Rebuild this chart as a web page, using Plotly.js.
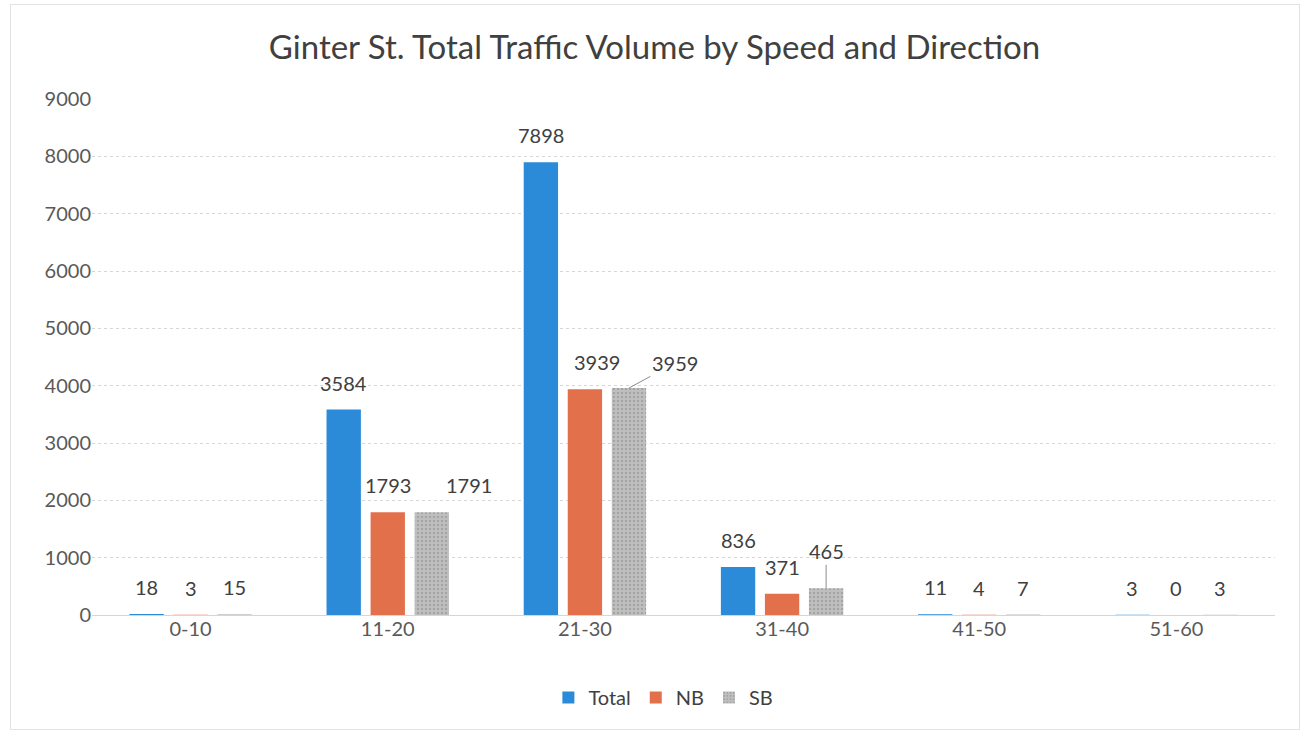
<!DOCTYPE html>
<html>
<head>
<meta charset="utf-8">
<script src="https://cdn.plot.ly/plotly-3.0.1.min.js"></script>
<style>
html,body{margin:0;padding:0;background:#fff;}
#frame{position:absolute;left:10px;top:4px;width:1290px;height:726px;border:1px solid #e3e3e3;box-sizing:border-box;}
#chart{width:1309px;height:734px;}
</style>
</head>
<body>
<div id="frame"></div>
<div id="chart"></div>
<script>
const categories = ['0-10','11-20','21-30','31-40','41-50','51-60'];
const seriesNames = ['Total','NB','SB'];
const totalValues = [18, 3584, 7898, 836, 11, 3];
const nbValues = [3, 1793, 3939, 371, 4, 0];
const sbValues = [15, 1791, 3959, 465, 7, 3];
const yTicks = [0,1000,2000,3000,4000,5000,6000,7000,8000,9000];

const font = 'Lato, "Open Sans", sans-serif';
const textFont = {family: font, size: 20, color: '#404040'};
const W = 1309, H = 734, ML = 92, MR = 34, MT = 99, MB = 119;
const BARGAP = 0.33, GROUPGAP = 0.22;

const series = [totalValues, nbValues, sbValues];
const colors = ['#2b8bd9', '#e2714b', '#b8b8b8'];

const traces = series.map((vals, k) => {
  const t = {type:'bar', name:seriesNames[k], x:categories, y:vals,
    marker:{color:colors[k]}, hoverinfo:'none'};
  if (k === 2) t.marker.pattern = {shape:'.', fgcolor:'#9c9c9c', bgcolor:'#bebebe', size:4, solidity:0.22};
  return t;
});

// data labels as annotations, placed at each bar's slot within its group
const catW = (W - ML - MR) / categories.length;
const slot = catW * (1 - BARGAP) / series.length;
// SB labels that use leader lines in the reference
const leader = {'2|21-30': {ax:46, ay:-25}, '2|31-40': {ax:0, ay:-37}};
// labels nudged sideways in the reference to avoid overlap
const nudge = {'2|11-20': 37, '1|21-30': 12};
const annotations = [];
series.forEach((vals, k) => {
  const xs = (k - (series.length - 1) / 2) * slot;
  vals.forEach((v, i) => {
    const key = k + '|' + categories[i];
    if (leader[key]) {
      annotations.push({x:categories[i], y:v, xref:'x', yref:'y', xshift:xs,
        text:String(v), font:textFont, showarrow:true, arrowhead:0, arrowwidth:1,
        arrowcolor:'#8c8c8c', ax:leader[key].ax, ay:leader[key].ay, standoff:0});
    } else {
      annotations.push({x:categories[i], y:v, xref:'x', yref:'y', xshift:xs + (nudge[key] || 0), yshift:13,
        text:String(v), font:textFont, showarrow:false, xanchor:'center', yanchor:'bottom'});
    }
  });
});

const layout = {
  width:W, height:H,
  paper_bgcolor:'rgba(0,0,0,0)', plot_bgcolor:'rgba(0,0,0,0)',
  margin:{l:ML, r:MR, t:MT, b:MB},
  title:{text:'Ginter St. Total Traffic Volume by Speed and Direction',
    font:{family:font, size:33, color:'#404040'}, x:0.5, xanchor:'center', y:0.936, yanchor:'middle'},
  barmode:'group', bargap:BARGAP, bargroupgap:GROUPGAP,
  xaxis:{type:'category', tickfont:{family:font, size:20, color:'#595959'},
    showline:false, ticks:'', showgrid:false, automargin:false},
  yaxis:{range:[0,9000], tickvals:yTicks, ticktext:yTicks.map(String),
    tickfont:{family:font, size:20, color:'#595959'},
    showgrid:true, gridcolor:'#d6d6d6', griddash:'dot', gridwidth:1,
    zeroline:true, zerolinecolor:'#d6d6d6', zerolinewidth:1,
    showline:false, ticks:'', ticklen:0, automargin:false},
  showlegend:true,
  legend:{orientation:'h', x:0.483, xanchor:'center', y:-0.16, yanchor:'middle',
    font:{family:font, size:20, color:'#404040'}, itemwidth:30, traceorder:'normal'},
  annotations:annotations
};

Plotly.newPlot('chart', traces, layout, {displayModeBar:false, staticPlot:true});
</script>
</body>
</html>
